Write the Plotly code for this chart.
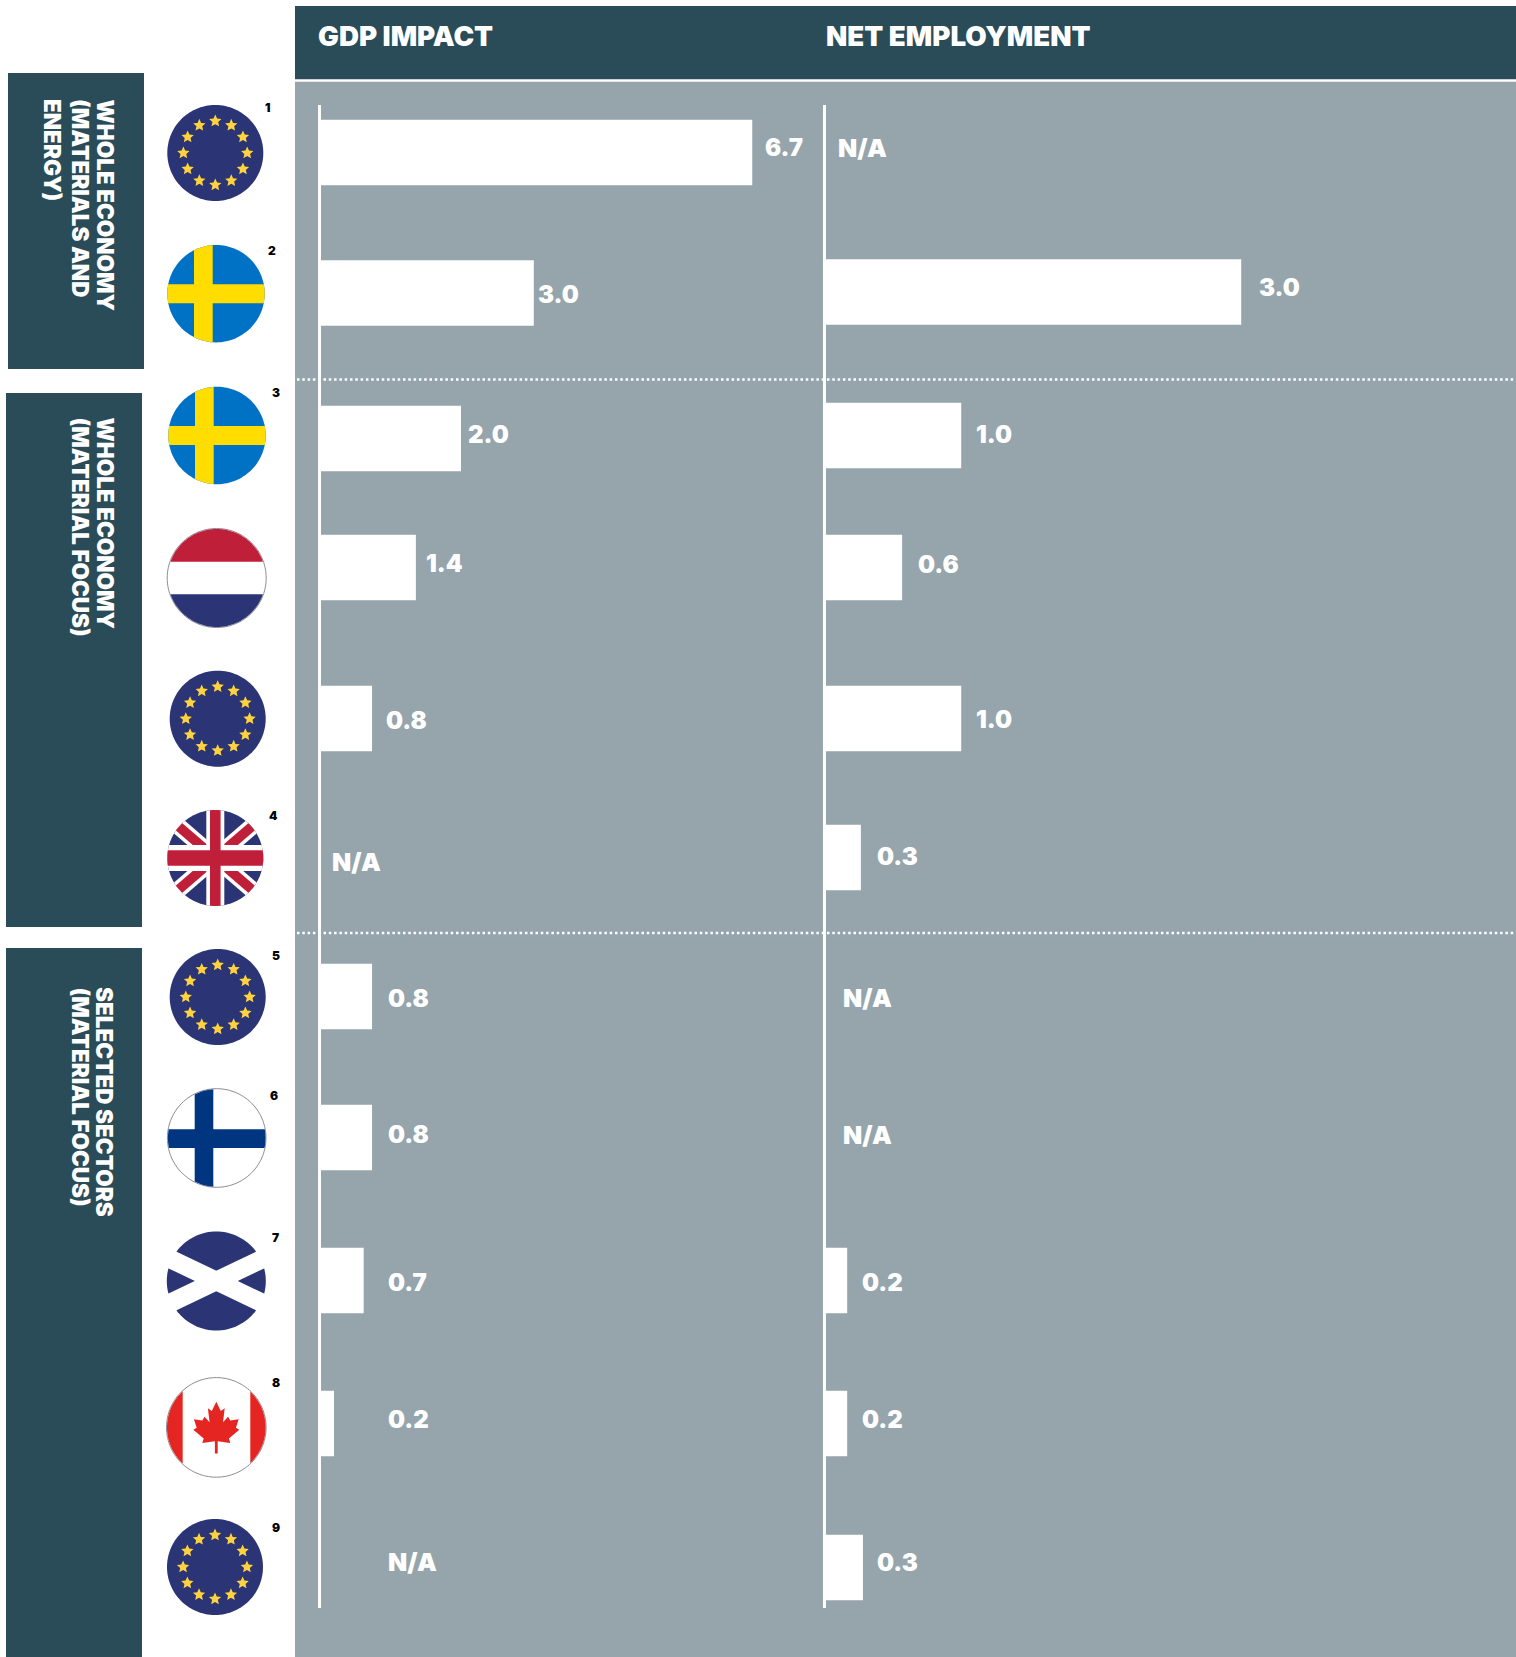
import numpy as np
import plotly.graph_objects as go

# ---------- data ----------
groups = [["WHOLE ECONOMY", "(MATERIALS AND", "ENERGY)"],
          ["WHOLE ECONOMY", "(MATERIAL FOCUS)"],
          ["SELECTED SECTORS", "(MATERIAL FOCUS)"]]
flags = ["EU", "SE", "SE", "NL", "EU", "UK", "EU", "FI", "SCO", "CA", "EU"]
footnotes = ["1", "2", "3", "", "", "4", "5", "6", "7", "8", "9"]
gdp_values = [6.7, 3.0, 2.0, 1.4, 0.8, None, 0.8, 0.8, 0.7, 0.2, None]
net_values = [None, 3.0, 1.0, 0.6, 1.0, 0.3, None, None, 0.2, 0.2, 0.3]
# the source's bars are not strictly proportional to their printed numbers:
# these are the lengths as drawn, in the same units
gdp_drawn = [6.7, 3.31, 2.18, 1.48, 0.80, None, 0.80, 0.80, 0.67, 0.21, None]
net_drawn = [None, 3.0, 0.977, 0.55, 0.977, 0.252, None, None, 0.153, 0.153, 0.267]
headers = ["GDP IMPACT", "NET EMPLOYMENT"]

# ---------- layout (pixels of the 1516x1657 page) ----------
W, H = 1516, 1657
DARK, PANEL, NAVY, GOLD = "#2A4B58", "#95A5AB", "#2B3474", "#FFD23F"
FONT = "Inter"
k = 1516 / 1435
gdp_rows = [152.5, 293, 438.5, 567.5, 718.5, 857, 996.5, 1137.5, 1280.5, 1423.5, 1567]
net_rows = [152.5, 292, 435.5, 567.5, 718.5, 857.5, 996.5, 1137.5, 1280.5, 1423.5, 1567.5]
gdp_text = [(724, 140), (509, 279), (443, 411), (403, 533), (365, 682), (314, 816),
            (367, 945), (367, 1074), (367, 1214), (367, 1344), (367, 1479)]
net_text = [(793, 140), (1192, 272), (924, 411), (869, 534), (924, 681), (830, 811),
            (798, 945), (798, 1074), (816, 1214), (816, 1344), (830, 1479)]
flag_pos = [(215.3, 153, 48), (216, 293.7, 48.7), (217, 435.5, 48.7), (216.7, 578, 49.5),
            (217.7, 718.7, 48), (215.3, 858, 48), (217.7, 997, 48), (216.7, 1138, 49.3),
            (216.3, 1281, 49.5), (216.3, 1427.4, 49.8), (215, 1567, 48)]
note_pos = [(253, 102), (257, 237), (261, 372), None, None, (259, 772), (261, 904),
            (259, 1037), (261, 1171), (261, 1309), (261, 1446)]
group_box = [(8, 73, 144, 369), (6, 393, 142, 927), (6, 948, 142, 1657)]
group_top = [99, 417, 987]
line_x = [105, 80, 52]
AXIS_TOP, AXIS_BOTTOM = 105, 1608
GDP_X0, NET_X0, SPLIT = 320.5, 826, 824
GDP_PX_PER_UNIT, NET_PX_PER_UNIT = 64.44, 138.4


def px(x):
    return x / W


def py(y):
    return 1 - y / H


shapes = []


def rect(x0, y0, x1, y1, color):
    shapes.append(dict(type="rect", xref="paper", yref="paper", x0=px(x0), x1=px(x1),
                       y0=py(y1), y1=py(y0), fillcolor=color, line_width=0, layer="below"))


def hline(y, x0, x1):
    shapes.append(dict(type="line", xref="paper", yref="paper", x0=px(x0), x1=px(x1),
                       y0=py(y), y1=py(y), line=dict(color="white", width=2.5, dash="2.5px,2.8px"),
                       layer="above"))


def circle_poly(cx, cy, r, n=120):
    a = np.linspace(0, 2 * np.pi, n, endpoint=False)
    return [(cx + r * np.cos(t), cy + r * np.sin(t)) for t in a]


def clip(subject, clipper):
    """Sutherland-Hodgman clip of a polygon against a convex polygon."""
    out = list(subject)
    for i in range(len(clipper)):
        if not out:
            break
        a, b = clipper[i], clipper[(i + 1) % len(clipper)]
        inside = lambda p: (b[0] - a[0]) * (p[1] - a[1]) - (b[1] - a[1]) * (p[0] - a[0]) >= 0
        inp, out = out, []
        for j in range(len(inp)):
            p, q = inp[j], inp[(j + 1) % len(inp)]
            ip, iq = inside(p), inside(q)
            if ip != iq:
                d1 = (q[0] - p[0], q[1] - p[1])
                d2 = (b[0] - a[0], b[1] - a[1])
                den = d1[0] * d2[1] - d1[1] * d2[0]
                t = ((a[0] - p[0]) * d2[1] - (a[1] - p[1]) * d2[0]) / den
                cross = (p[0] + t * d1[0], p[1] + t * d1[1])
            if ip:
                out.append(p)
                if not iq:
                    out.append(cross)
            elif iq:
                out.append(cross)
    return out


def path_of(polys):
    s = ""
    for poly in polys:
        if len(poly) > 2:
            s += "M" + "L".join(f"{px(x):.5f},{py(y):.5f}" for x, y in poly) + "Z"
    return s


def fill(polys, color, line=None):
    shapes.append(dict(type="path", xref="paper", yref="paper", path=path_of(polys),
                       fillcolor=color, layer="above",
                       line=dict(color=line, width=1) if line else dict(width=0)))


def fill_each(polys, color):
    # crossing pieces get their own shape, so that their overlap is not punched out
    for poly in polys:
        fill([poly], color)


def band(cx, cy, r, x0, y0, x1, y1):
    c = circle_poly(cx, cy, r)
    return clip([(cx + x0, cy + y0), (cx + x1, cy + y0), (cx + x1, cy + y1), (cx + x0, cy + y1)], c)


def diag(cx, cy, r, slope, half):
    c = circle_poly(cx, cy, r)
    L = 70
    return clip([(cx - L, cy - slope * L - half), (cx + L, cy + slope * L - half),
                 (cx + L, cy + slope * L + half), (cx - L, cy - slope * L + half)], c)


def star(cx, cy, R):
    pts = []
    for i in range(10):
        t = -np.pi / 2 + i * np.pi / 5
        rr = R if i % 2 == 0 else R * 0.47
        pts.append((cx + rr * np.cos(t), cy + rr * np.sin(t)))
    return pts


def draw_flag(kind, cx, cy, r):
    disc = circle_poly(cx, cy, r)
    if kind == "EU":
        fill([disc], NAVY)
        ring = r * 0.665
        fill([star(cx + ring * np.cos(np.pi / 6 * i), cy + ring * np.sin(np.pi / 6 * i), r * 0.135)
              for i in range(12)], GOLD)
    elif kind == "SE":
        fill([disc], "#0072C6")
        fill_each([band(cx, cy, r, -22, -70, -3.3, 70), band(cx, cy, r, -70, -9.4, 70, 9.6)], "#FFDD00")
    elif kind == "NL":
        fill([disc], "#FFFFFF", "#8B8B95")
        fill([band(cx, cy, r - .5, -70, -70, 70, -16.3)], "#C01F3A")
        fill([band(cx, cy, r - .5, -70, 16.3, 70, 70)], NAVY)
    elif kind == "FI":
        fill([disc], "#FFFFFF", "#8B8B95")
        fill_each([band(cx, cy, r - .5, -22, -70, -3.4, 70), band(cx, cy, r - .5, -70, -8.7, 70, 10)], "#003580")
    elif kind == "SCO":
        fill([disc], NAVY)
        fill_each([diag(cx, cy, r + 1, .48, 10.3), diag(cx, cy, r + 1, -.48, 10.3)], "#FFFFFF")
    elif kind == "CA":
        fill([disc], "#FFFFFF", "#8B8B95")
        fill([band(cx, cy, r - .5, -70, -70, -33.6, 70), band(cx, cy, r - .5, 34, -70, 70, 70)], "#E52521")
        half = [(0, -.95), (.16, -.62), (.30, -.72), (.24, -.22), (.42, -.42), (.50, -.28),
                (.80, -.33), (.70, -.02), (.82, .05), (.45, .36), (.50, .52), (.05, .46), (.05, .9)]
        leaf = [(x, y) for x, y in half] + [(-x, y) for x, y in reversed(half)]
        fill([[(cx + 28 * x, cy + 1 + 28 * y) for x, y in leaf]], "#E52521")
    elif kind == "UK":
        fill([disc], NAVY)
        fill_each([diag(cx, cy, r, .86, 11), diag(cx, cy, r, -.86, 11)], "#FFFFFF")
        fill_each([diag(cx, cy, r, .86, 6.5), diag(cx, cy, r, -.86, 6.5)], "#C01F3A")
        fill_each([band(cx, cy, r, -9, -70, 9, 70), band(cx, cy, r, -70, -13, 70, 13)], "#FFFFFF")
        fill_each([band(cx, cy, r, -5.3, -70, 5.3, 70), band(cx, cy, r, -70, -7.7, 70, 7.7)], "#C01F3A")


# backgrounds
rect(295, 6, W, 79.3, DARK)
rect(295, 81.7, W, H, PANEL)
for b in group_box:
    rect(*b, DARK)
hline(379.5, 297, W)
hline(933, 297, W)

for kind, (cx, cy, r) in zip(flags, flag_pos):
    draw_flag(kind, cx, cy, r)

# ---------- traces ----------
fig = go.Figure()
for vals, rows, xa, ya, name in [(gdp_drawn, gdp_rows, "x", "y", headers[0]),
                                 (net_drawn, net_rows, "x2", "y2", headers[1])]:
    keep = [i for i, v in enumerate(vals) if v is not None]
    fig.add_trace(go.Bar(x=[vals[i] for i in keep], y=[rows[i] for i in keep], orientation="h",
                         width=65.5, marker=dict(color="white", line_width=0),
                         xaxis=xa, yaxis=ya, name=name, showlegend=False))

annotations = []


def label(text, x, y, size, color="white", anchor="left", weight=800, angle=0, yanchor="middle"):
    annotations.append(dict(text=text, xref="paper", yref="paper", x=px(x), y=py(y),
                            xanchor=anchor, yanchor=yanchor, showarrow=False, textangle=angle,
                            font=dict(family=FONT, size=size, color=color, weight=weight),
                            borderpad=0, borderwidth=0))


for vals, pos in [(gdp_values, gdp_text), (net_values, net_text)]:
    for v, (x, y) in zip(vals, pos):
        label("N/A" if v is None else f"{v:.1f}", x * k, y * k, 25 if v is None else 24, weight=900)

label(headers[0], 318, 36, 27.7, weight=900)
label(headers[1], 826, 36, 27.7, weight=900)

for lines, top in zip(groups, group_top):
    for text, x in zip(lines, line_x):
        label(text, x, top, 22.5, anchor="center", weight=900, angle=90, yanchor="top")

for n, p in zip(footnotes, note_pos):
    if p:
        label(n, p[0] * k, p[1] * k, 12, color="black", anchor="center", weight=900)

ydom = [1 - AXIS_BOTTOM / H, 1 - AXIS_TOP / H]
axis_y = dict(domain=ydom, range=[AXIS_BOTTOM, AXIS_TOP], showline=True, linecolor="white", linewidth=3,
              showticklabels=False, ticks="", showgrid=False, zeroline=False)
fig.update_layout(
    width=W, height=H, margin=dict(l=0, r=0, t=0, b=0, pad=0),
    paper_bgcolor="white", plot_bgcolor="rgba(0,0,0,0)", barmode="overlay",
    shapes=shapes, annotations=annotations,
    xaxis=dict(domain=[GDP_X0 / W, SPLIT / W], range=[0, (SPLIT - GDP_X0) / GDP_PX_PER_UNIT],
               visible=False, anchor="y"),
    xaxis2=dict(domain=[NET_X0 / W, 1], range=[0, (W - NET_X0) / NET_PX_PER_UNIT],
                visible=False, anchor="y2"),
    yaxis=dict(axis_y, anchor="x"),
    yaxis2=dict(axis_y, anchor="x2"),
)
fig.write_html("out.html", config={"displayModeBar": False},
               post_script="document.body.style.margin='0';document.body.style.overflow='hidden';")
